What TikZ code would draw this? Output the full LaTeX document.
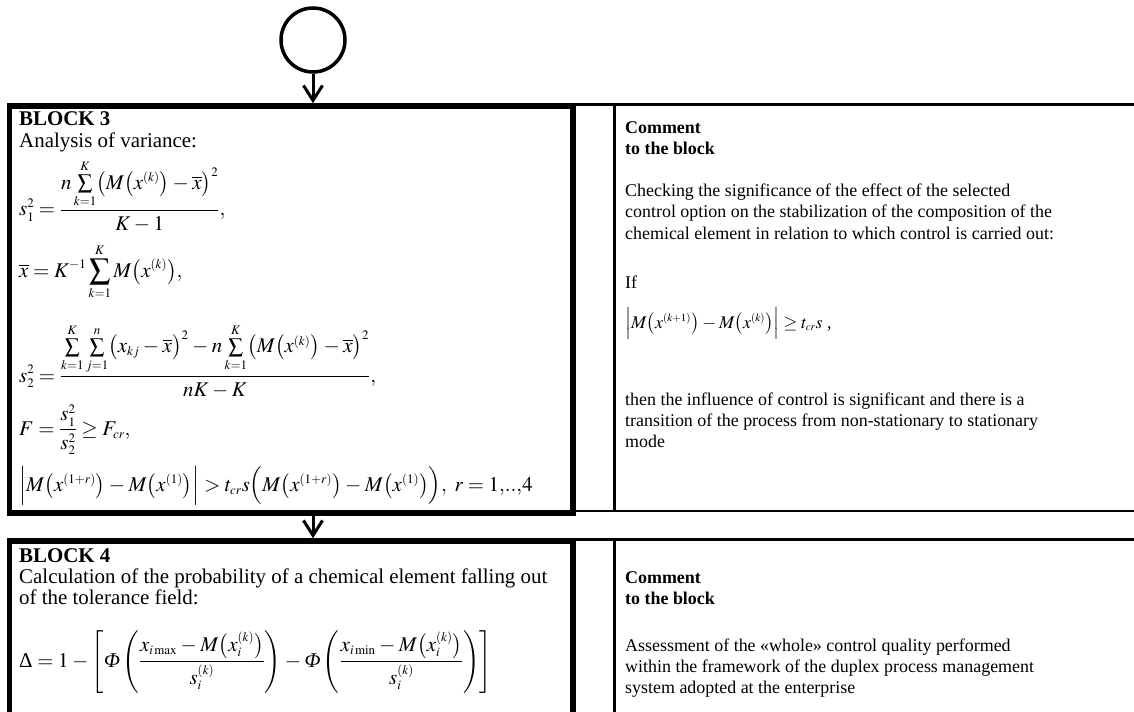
\documentclass[tikz,border=0pt]{standalone}
\usepackage{amsmath}
\usepackage{mathptmx}
\usepackage[no-math]{fontspec}
\setmainfont{Liberation Serif}
\usetikzlibrary{arrows.meta}
\DeclareMathSizes{21}{21}{13}{10}
\DeclareMathSizes{18}{18}{11}{8}
\tikzset{
  blk/.style={draw, line width=5.5bp, inner sep=0pt, anchor=north west},
  tablerule/.style={line width=2.5bp},
  arr/.style={line width=3bp, -{Straight Barb[length=15bp,width=19bp]}},
  ltxt/.style={anchor=base west, inner sep=0pt, font=\fontsize{21}{24}\selectfont},
  rtxt/.style={anchor=base west, inner sep=0pt, font=\fontsize{18}{21}\selectfont},
}
\newcommand{\xb}{\overline{x}}
\newcommand{\Mx}[1]{M\bigl(x^{(#1)}\bigr)}
\newcommand{\Mxi}{M\bigl(x_i^{(k)}\bigr)}
\newcommand{\itPhi}{\mbox{\itshape Φ}}
\begin{document}
\thickmuskip=4mu plus 2mu
\medmuskip=3mu plus 1mu minus 1mu
\thinmuskip=2mu
\begin{tikzpicture}[x=1bp,y=-1bp]
\useasboundingbox (0,0) rectangle (1134,712);
% start circle
\node[circle, draw, line width=3.5bp, minimum size=64bp, inner sep=0pt] (c) at (313,40) {};
% block 3
\node[blk, minimum width=563.5bp, minimum height=407bp] (b3) at (6.75,103.25) {};
% block 4 (runs past the bottom edge)
\begin{scope}
\clip (0,0) rectangle (1134,712);
\node[blk, minimum width=563.5bp, minimum height=260bp] (b4) at (6.75,538.25) {};
\end{scope}
% arrows
\draw[arr] (c.south) -- (c.south |- b3.north);
\draw[arr] (c.south |- b3.south) -- (c.south |- b4.north);
% comment column rules
\coordinate (t3l) at (573,104.5);  \coordinate (t3r) at (1134,104.5);
\coordinate (u3l) at (573,511);    \coordinate (u3r) at (1134,511);
\coordinate (v3t) at (614.5,104.5); \coordinate (v3b) at (614.5,511);
\coordinate (t4l) at (573,539.5);  \coordinate (t4r) at (1134,539.5);
\coordinate (v4t) at (614.5,539.5); \coordinate (v4b) at (614.5,712);
\draw[tablerule] (t3l) -- (t3r);
\draw[tablerule] (u3l) -- (u3r);
\draw[tablerule] (v3t) -- (v3b);
\draw[tablerule] (t4l) -- (t4r);
\draw[tablerule] (v4t) -- (v4b);
% block 3 text
\node[ltxt] (h3) at (19,126) {\textbf{BLOCK 3}};
\node[ltxt] (a3) at (19,148) {Analysis of variance:};
\node[ltxt] (f1) at (19,216) {$\displaystyle s_1^2=\frac{n\sum\limits_{k=1}^{K}\bigl(\Mx{k}-\xb\bigr)^{2}}{K-1},$};
\node[ltxt] (f2) at (19,277) {$\displaystyle \xb=K^{-1}\sum_{k=1}^{K}\Mx{k},$};
\node[ltxt] (f3) at (19,382) {$\displaystyle s_2^2=\frac{\sum\limits_{k=1}^{K}\sum\limits_{j=1}^{n}\bigl(x_{kj}-\xb\bigr)^{2}-n\sum\limits_{k=1}^{K}\bigl(\Mx{k}-\xb\bigr)^{2}}{nK-K},$};
\node[ltxt] (f4) at (19,435) {$\displaystyle F=\frac{s_1^2}{s_2^2}\ge F_{cr},$};
\node[ltxt] (f5) at (19,491) {$\Bigl|\Mx{1+r}-\Mx{1}\Bigr|>t_{cr}s\Bigl(\Mx{1+r}-\Mx{1}\Bigr),\ r=1{,}..{,}4$};
% block 3 comment
\node[rtxt] (rc1) at (625,134) {\textbf{Comment}};
\node[rtxt] (rc2) at (625,155) {\textbf{to the block}};
\node[rtxt] (rc3) at (625,197) {Checking the significance of the effect of the selected};
\node[rtxt] (rc4) at (625,218) {control option on the stabilization of the composition of the};
\node[rtxt] (rc5) at (625,239) {chemical element in relation to which control is carried out:};
\node[rtxt] (rc6) at (625,288) {If};
\node[rtxt] (rc7) at (625,328) {$\Bigl|\Mx{k+1}-\Mx{k}\Bigr|\ge t_{cr}s$ ,};
\node[rtxt] (rc8) at (625,405) {then the influence of control is significant and there is a};
\node[rtxt] (rc9) at (625,426) {transition of the process from non-stationary to stationary};
\node[rtxt] (rc10) at (625,447) {mode};
% block 4 text
\node[ltxt] (h4) at (19,562) {\textbf{BLOCK 4}};
\node[ltxt] (c4a) at (19,583) {Calculation of the probability of a chemical element falling out};
\node[ltxt] (c4b) at (19,604) {of the tolerance field:};
\node[ltxt] (f6) at (19,667) {$\mbox{Δ}=1-\left[\itPhi\left(\dfrac{x_{i\max}-\Mxi}{s_i^{(k)}}\right)-\itPhi\left(\dfrac{x_{i\min}-\Mxi}{s_i^{(k)}}\right)\right]$};
% block 4 comment
\node[rtxt] (rd1) at (625,583) {\textbf{Comment}};
\node[rtxt] (rd2) at (625,604) {\textbf{to the block}};
\node[rtxt] (rd3) at (625,651) {Assessment of the «whole» control quality performed};
\node[rtxt] (rd4) at (625,672) {within the framework of the duplex process management};
\node[rtxt] (rd5) at (625,693) {system adopted at the enterprise};
\end{tikzpicture}
\end{document}
